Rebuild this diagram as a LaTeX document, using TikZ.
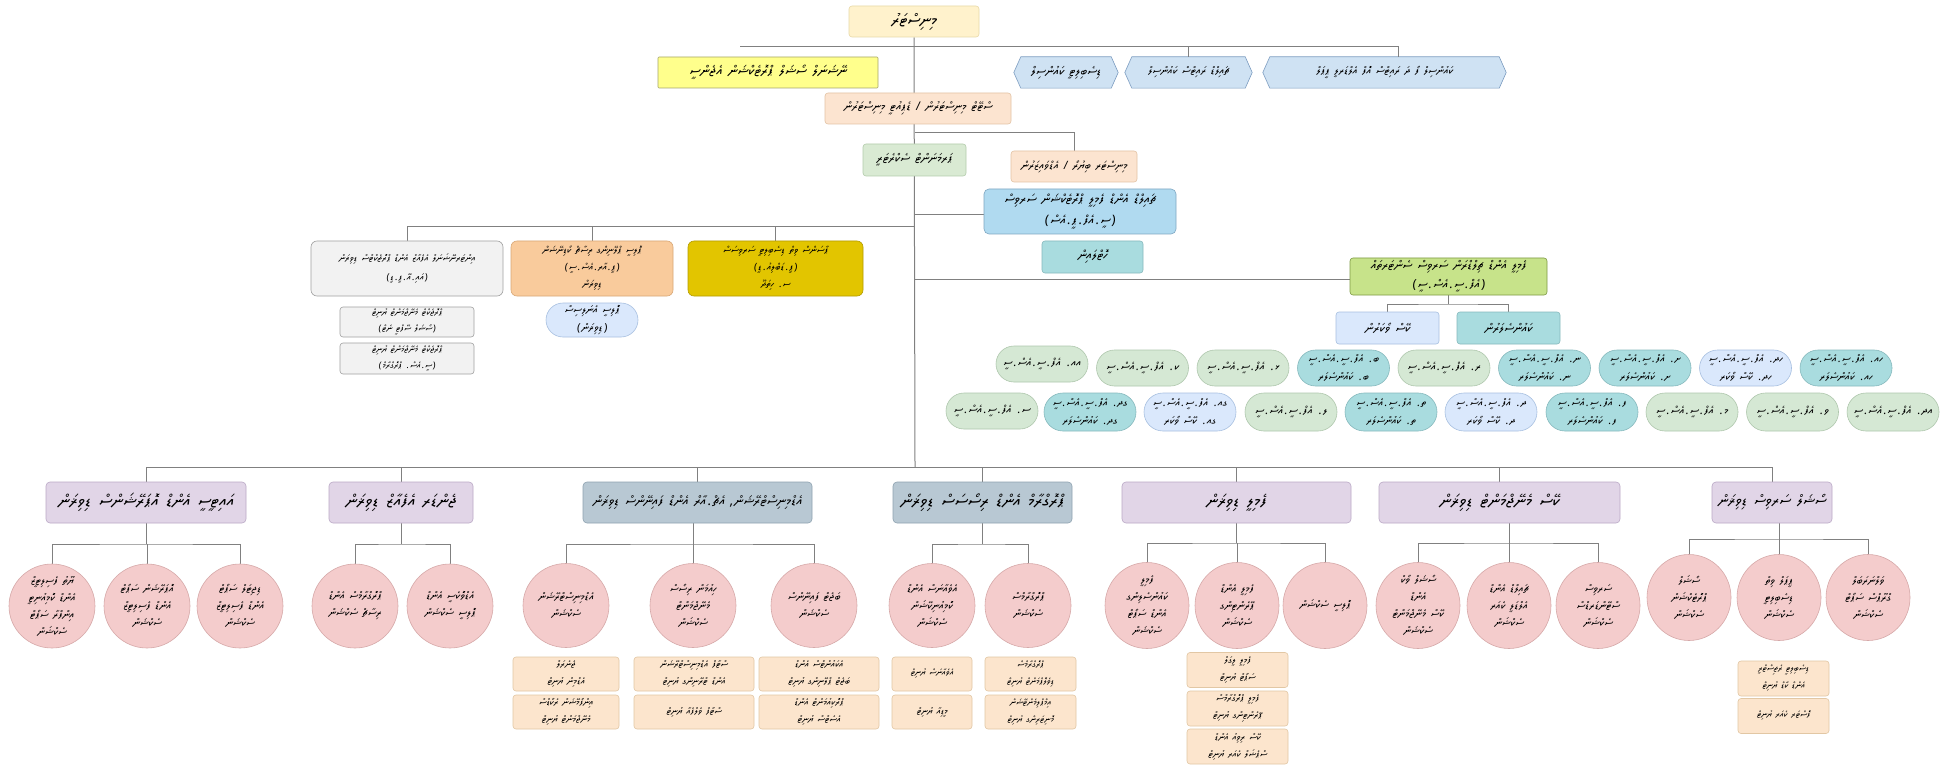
\documentclass[tikz,border=0pt]{standalone}
\usepackage{fontspec}
\usetikzlibrary{shapes.geometric,shapes.misc,backgrounds,calc}
\TeXXeTstate=1
\newfontfamily\dvfont{Noto Sans Thaana}[Script=Thaana,FakeSlant=0.1,WordSpace=1.6]
\newfontfamily\latf{Noto Sans}[FakeSlant=0.1]
\newcommand\thn[1]{\beginR#1\endR}
\newcommand\fsz[2]{\dvfont\fontsize{#1}{#2}\selectfont}
\newcommand\dt{\kern0.1em{\latf.}\kern0.1em}
\newcommand\po{{\latf)}\kern0.1em}
\newcommand\pc{\kern0.1em{\latf(}}
\newcommand\slsh{{\latf/}}
\newcommand\fcsc{އެފް\dt ސީ\dt އެސް\dt ސީ}
\definecolor{lnc}{HTML}{808080}
\definecolor{minF}{HTML}{FFF2CC}\definecolor{minD}{HTML}{E8D9A8}
\definecolor{yelF}{HTML}{FFFF8C}\definecolor{yelD}{HTML}{A6A66B}
\definecolor{hexF}{HTML}{CFE2F3}\definecolor{hexD}{HTML}{7C9CC0}
\definecolor{pchF}{HTML}{FCE4D0}\definecolor{pchD}{HTML}{E3C3A5}
\definecolor{psF}{HTML}{D9EAD3}\definecolor{psD}{HTML}{B4CCAC}
\definecolor{bluF}{HTML}{B0DAF0}\definecolor{bluD}{HTML}{7FA7C2}
\definecolor{tealF}{HTML}{A9DCDF}\definecolor{tealD}{HTML}{86B9BD}
\definecolor{limF}{HTML}{C7E38A}\definecolor{limD}{HTML}{7E9A45}
\definecolor{gryF}{HTML}{F2F2F2}\definecolor{gryD}{HTML}{A0A0A0}
\definecolor{orgF}{HTML}{F9CB9C}\definecolor{orgD}{HTML}{D9A877}
\definecolor{gldF}{HTML}{E2C500}\definecolor{gldD}{HTML}{B49C00}
\definecolor{lbF}{HTML}{DAE8FC}\definecolor{lbD}{HTML}{A8C0E0}
\definecolor{grnF}{HTML}{D5E8D4}\definecolor{grnD}{HTML}{AFC7AD}
\definecolor{purF}{HTML}{E1D5E7}\definecolor{purD}{HTML}{BBA9C6}
\definecolor{gbF}{HTML}{B8C8D3}\definecolor{gbD}{HTML}{8EA2B0}
\definecolor{cirF}{HTML}{F4CCCC}\definecolor{cirD}{HTML}{D6A9A9}
\definecolor{recF}{HTML}{FCE5CD}\definecolor{recD}{HTML}{E2C7A4}
\tikzset{
  conn/.style={draw=lnc, line width=1pt},
  box/.style={rectangle, rounded corners=3pt, line width=0.6pt, inner sep=1pt, align=center},
  fC/.style={font=\fsz{10}{17}},
  fD/.style={font=\fsz{9}{16}},
  hext/.style={inner sep=1pt, minimum height=31, align=center, font=\fsz{11}{18}},
  hexs/.style={fill=hexF, draw=hexD, line width=0.6pt},
  pill/.style={rounded rectangle, line width=0.6pt, inner xsep=0pt, inner ysep=0pt, minimum width=92, minimum height=36, align=center, font=\fsz{11}{18}},
  pg/.style={pill, fill=grnF, draw=grnD},
  pt/.style={pill, fill=tealF, draw=tealD},
  pb/.style={pill, fill=lbF, draw=lbD},
  dv/.style={box, rounded corners=4pt, minimum height=41, font=\fsz{17}{24}},
  dvp/.style={dv, fill=purF, draw=purD},
  dvg/.style={dv, fill=gbF, draw=gbD},
  cir/.style={ellipse, fill=cirF, draw=cirD, line width=0.6pt, inner xsep=-18pt, inner ysep=-16pt, minimum width=86, minimum height=84, align=center, font=\fsz{11}{17}},
  rec/.style={box, fill=recF, draw=recD, inner ysep=0pt, minimum height=34, font=\fsz{9.5}{17}}
}
\begin{document}
\begin{tikzpicture}[x=1pt,y=-1pt]
\useasboundingbox (0,0) rectangle (1953,767);
% ---------- top ----------
\node[box, draw=minD, fill=minF, minimum width=130, minimum height=31, font=\fsz{16.5}{22}] (min) at (914,21.5) {\thn{މިނިސްޓަރު}};
\node[box, rounded corners=1pt, draw=yelD, fill=yelF, minimum width=220, minimum height=31, font=\fsz{14}{20}] (yel) at (768,72.5) {\thn{ނޭޝަނަލް ސޯޝަލް ޕްރޮޓެކްޝަން އެޖެންސީ}};
\node[hext, minimum width=90, font=\fsz{12.5}{18}] (hexL) at (1066,72.5) {\thn{ޑިސެބިލިޓީ ކައުންސިލް}};
\node[hext, minimum width=113] (hexM) at (1188.5,72.5) {\thn{ޗައިލްޑް ރައިޓްސް ކައުންސިލް}};
\node[hext, minimum width=229] (hexR) at (1384.5,72.5) {\thn{ކައުންސިލް ފޯ ދަ ރައިޓްސް އޮފް އެލްޑަރލީ ޕީޕަލް}};
\node[box, draw=pchD, fill=pchF, minimum width=186, minimum height=31, font=\fsz{12}{18}] (state) at (918,108.5) {\thn{ސްޓޭޓް މިނިސްޓަރުން \slsh\ ޑެޕިއުޓީ މިނިސްޓަރުން}};
\node[box, draw=psD, fill=psF, minimum width=103, minimum height=32, font=\fsz{12.5}{18}] (ps) at (914.5,160) {\thn{ޕަރމަނަންޓް ސެކްރެޓަރީ}};
\node[box, draw=pchD, fill=pchF, minimum width=126, minimum height=31, font=\fsz{11.5}{16}] (pch2) at (1074,166.5) {\thn{މިނިސްޓަރ ބިޔުރޯ \slsh\ އެޑްވައިޒަރުން}};
\node[box, rounded corners=5pt, draw=bluD, fill=bluF, inner ysep=0pt, minimum width=192, minimum height=45, font=\fsz{13}{21}] (blu) at (1080,211.5) {\thn{ޗައިލްޑް އެންޑް ފެމިލީ ޕްރޮޓެކްޝަން ސަރވިސް}\\\thn{\po ސީ\dt އެފް\dt ޕީ\dt އެސް\pc}};
\node[box, draw=tealD, fill=tealF, minimum width=101, minimum height=32, font=\fsz{13}{18}] (tsm) at (1092.5,257) {\thn{ހޮޓްލައިން}};
\node[box, draw=limD, fill=limF, inner ysep=0pt, minimum width=197, minimum height=37, font=\fsz{12.5}{19}] (lim) at (1448.5,276.5) {\thn{ފެމިލީ އެންޑް ޗިލްޑްރަން ސަރވިސް ސެންޓަރތައް}\\\thn{\po \fcsc\pc}};
\node[box, draw=lbD, fill=lbF, minimum width=103, minimum height=32, font=\fsz{12.5}{18}] (subL) at (1387.5,328) {\thn{ކޭސް ވޯކަރުން}};
\node[box, draw=tealD, fill=tealF, minimum width=103, minimum height=32, font=\fsz{12.5}{18}] (subR) at (1508.5,328) {\thn{ކައުންސެލަރުން}};
% ---------- left middle ----------
\node[box, rounded corners=6pt, draw=gryD, fill=gryF, minimum width=192, minimum height=55, font=\fsz{9.5}{19}] (gry) at (407,268.5) {\thn{އިންޓަރނޭޝަނަލް އެފެއާޒް އެންޑް ޕްރޮޖެކްޓްސް ޑިވިޜަން}\\\thn{\po އައި\dt އޭ\dt ޕީ\dt ޑީ\pc}};
\node[box, rounded corners=6pt, draw=orgD, fill=orgF, inner ysep=0pt, minimum width=162, minimum height=55, fC] (org) at (592,268.5) {\thn{ޕޮލިސީ ޕްލޭނިންގ ރިސާޗް ކޯޑިނޭޝަން}\\\thn{\po ޕީ\dt އާރ\dt އެސް\dt ސީ\pc}\\\thn{ޑިވިޜަން}};
\node[box, rounded corners=6pt, draw=gldD, fill=gldF, inner ysep=0pt, minimum width=175, minimum height=55, font=\fsz{10}{17}] (gld) at (775.5,268.5) {\thn{ޕާސަންސް ވިތް ޑިސެބިލިޓީ ސަރވިސަސް}\\\thn{\po ޕީ\dt ޑަބްލިއު\dt ޑީ\pc}\\\thn{ސ\dt\ ހިތަދޫ}};
\node[box, draw=gryD, fill=gryF, inner ysep=0pt, minimum width=134, minimum height=30, fD] (gs1) at (407,322) {\thn{ޕްރޮޖެކްޓް މެނޭޖްމަންޓް ޔުނިޓް}\\\thn{\po ސޯޝަލް ސޭފްޓީ ނެޓް\pc}};
\node[box, draw=gryD, fill=gryF, inner ysep=0pt, minimum width=134, minimum height=31, fD] (gs2) at (407,358.5) {\thn{ޕްރޮޖެކްޓް މެނޭޖްމަންޓް ޔުނިޓް}\\\thn{\po ސީ\dt އެސް\dt\ ޕްރޮގްރާމް\pc}};
\node[pb, minimum height=34, font=\fsz{11}{18}] (lbp) at (592,320) {\thn{ޕޮލިސީ އެނަލިސިސް}\\\thn{\po ޑިވިޜަން\pc}};
% ---------- pills top row ----------
\node[pg, font=\fsz{11.5}{18}] (t0) at (1042,364) {\thn{އއ\dt\ \fcsc}};
\node[pg, font=\fsz{11.5}{18}] (t1) at (1142.5,368) {\thn{ކ\dt\ \fcsc}};
\node[pg, font=\fsz{11.5}{18}] (t2) at (1243,368) {\thn{ޅ\dt\ \fcsc}};
\node[pt] (t3) at (1343.5,368) {\thn{ބ\dt\ \fcsc}\\\thn{ބ\dt\ ކައުންސެލަރ}};
\node[pg, font=\fsz{11.5}{18}] (t4) at (1444,368) {\thn{ރ\dt\ \fcsc}};
\node[pt] (t5) at (1544.5,368) {\thn{ނ\dt\ \fcsc}\\\thn{ނ\dt\ ކައުންސެލަރ}};
\node[pt] (t6) at (1645,368) {\thn{ށ\dt\ \fcsc}\\\thn{ށ\dt\ ކައުންސެލަރ}};
\node[pb] (t7) at (1745.5,368) {\thn{ހދ\dt\ \fcsc}\\\thn{ހދ\dt\ ކޭސް ވޯކަރ}};
\node[pt] (t8) at (1846,368) {\thn{ހއ\dt\ \fcsc}\\\thn{ހއ\dt\ ކައުންސެލަރ}};
% ---------- pills bottom row ----------
\node[pg, font=\fsz{11.5}{18}] (b0) at (992,411) {\thn{ސ\dt\ \fcsc}};
\node[pt, minimum height=38] (b1) at (1090,412) {\thn{ގދ\dt\ \fcsc}\\\thn{ގދ\dt\ ކައުންސެލަރ}};
\node[pb, minimum height=38] (b2) at (1190,412) {\thn{ގއ\dt\ \fcsc}\\\thn{ގއ\dt\ ކޭސް ވޯކަރ}};
\node[pg, minimum height=38, font=\fsz{11.5}{18}] (b3) at (1291,412) {\thn{ލ\dt\ \fcsc}};
\node[pt, minimum height=38] (b4) at (1391,412) {\thn{ތ\dt\ \fcsc}\\\thn{ތ\dt\ ކައުންސެލަރ}};
\node[pb, minimum height=38] (b5) at (1491,412) {\thn{ދ\dt\ \fcsc}\\\thn{ދ\dt\ ކޭސް ވޯކަރ}};
\node[pt, minimum height=38] (b6) at (1592,412) {\thn{ފ\dt\ \fcsc}\\\thn{ފ\dt\ ކައުންސެލަރ}};
\node[pg, minimum height=38, font=\fsz{11.5}{18}] (b7) at (1692,412) {\thn{މ\dt\ \fcsc}};
\node[pg, minimum height=38, font=\fsz{11.5}{18}] (b8) at (1792.5,412) {\thn{ވ\dt\ \fcsc}};
\node[pg, minimum height=38, font=\fsz{11.5}{18}] (b9) at (1893,412) {\thn{އދ\dt\ \fcsc}};
% ---------- divisions ----------
\node[dvp, minimum width=200] (d1) at (146,502.5) {\thn{އައިޓީސީ އެންޑް އޮޕަރޭޝަންސް ޑިވިޜަން}};
\node[dvp, minimum width=144] (d2) at (401,502.5) {\thn{ޖެންޑަރ އެފެއާޒް ޑިވިޜަން}};
\node[dvg, minimum width=229, font=\fsz{13.5}{19}] (d3) at (697.5,502.5) {\thn{އެޑްމިނިސްޓްރޭޝަން، އެޗް\dt އާރް އެންޑް ފައިނޭންސް ޑިވިޜަން}};
\node[dvg, minimum width=179] (d4) at (982.5,502.5) {\thn{ޕްރޮގްރާމް އެންޑް ރިސޯސަސް ޑިވިޜަން}};
\node[dvp, minimum width=229] (d5) at (1236.5,502.5) {\thn{ފެމިލީ ޑިވިޜަން}};
\node[dvp, minimum width=241] (d6) at (1499.5,502.5) {\thn{ކޭސް މެނޭޖްމަންޓް ޑިވިޜަން}};
\node[dvp, minimum width=120, font=\fsz{15}{22}] (d7) at (1772,502.5) {\thn{ސޯޝަލް ސަރވިސް ޑިވިޜަން}};
% ---------- circles ----------
\node[cir] (c11) at (52,606) {\thn{ޔޫތު ފެސިލިޓީޒް}\\\thn{އެންޑް ކޮމިއުނިޓީ}\\\thn{އިންފްރާ ސަޕޯޓް}\\\thn{ސެކްޝަން}};
\node[cir] (c12) at (147,606) {\thn{އޮޕަރޭޝަން ސަޕޯޓް}\\\thn{އެންޑް ފެސިލިޓީޒް}\\\thn{ސެކްޝަން}};
\node[cir] (c13) at (240,606) {\thn{ޑިޖިޓަލް ސަޕޯޓް}\\\thn{އެންޑް ފެސިލިޓީޒް}\\\thn{ސެކްޝަން}};
\node[cir] (c21) at (355,606) {\thn{ޕްރޮގްރާމްސް އެންޑް}\\\thn{ރިސާޗް ސެކްޝަން}};
\node[cir] (c22) at (450,606) {\thn{އެޑްވޮކެސީ އެންޑް}\\\thn{ޕޮލިސީ ސެކްޝަން}};
\node[cir] (c31) at (566,605.5) {\thn{އެޑްމިނިސްޓްރޭޝަން}\\\thn{ސެކްޝަން}};
\node[cir] (c32) at (693,605.5) {\thn{ހިއުމަން ރިސޯސް}\\\thn{މެނޭޖްމަންޓް}\\\thn{ސެކްޝަން}};
\node[cir] (c33) at (814,605.5) {\thn{ބަޖެޓް ފައިނޭންސް}\\\thn{ސެކްޝަން}};
\node[cir] (c41) at (932,605.5) {\thn{އެވެއާނަސް އެންޑް}\\\thn{ކޮމިއުނިކޭޝަން}\\\thn{ސެކްޝަން}};
\node[cir] (c42) at (1028,605.5) {\thn{ޕްރޮގްރާމްސް}\\\thn{ސެކްޝަން}};
\node[cir, minimum width=84, minimum height=86] (c51) at (1147,605.5) {\thn{ފެމިލީ}\\\thn{ކައުންސެލިންގ}\\\thn{އެންޑް ސަޕޯޓް}\\\thn{ސެކްޝަން}};
\node[cir, minimum width=84, minimum height=86] (c52) at (1237,605.5) {\thn{ފެމިލީ އެންޑް}\\\thn{ޕޭރެންޓިންގ}\\\thn{ސެކްޝަން}};
\node[cir, minimum width=84, minimum height=86] (c53) at (1325,605.5) {\thn{ޕޮލިސީ ސެކްޝަން}};
\node[cir, minimum width=84, minimum height=86] (c61) at (1418,605.5) {\thn{ސޯޝަލް ވޯކް}\\\thn{އެންޑް}\\\thn{ކޭސް މެނޭޖްމަންޓް}\\\thn{ސެކްޝަން}};
\node[cir, minimum width=84, minimum height=86] (c62) at (1509,605.5) {\thn{ޗައިލްޑް އެންޑް}\\\thn{އެލްޑަލީ ކެއަރ}\\\thn{ސެކްޝަން}};
\node[cir, minimum width=84, minimum height=86] (c63) at (1598,605.5) {\thn{ސަރވިސް}\\\thn{ސްޓޭންޑަރޑްސް}\\\thn{ސެކްޝަން}};
\node[cir, minimum width=84, minimum height=86] (c71) at (1689,597.5) {\thn{ސޯޝަލް}\\\thn{ޕްރޮޓެކްޝަން}\\\thn{ސެކްޝަން}};
\node[cir, minimum width=84, minimum height=86] (c72) at (1779,597.5) {\thn{ޕީޕަލް ވިތް}\\\thn{ޑިސެބިލިޓީ}\\\thn{ސެކްޝަން}};
\node[cir, minimum width=84, minimum height=86] (c73) at (1868,597.5) {\thn{ވަލްނަރަބަލް}\\\thn{ގްރޫޕްސް ސަޕޯޓް}\\\thn{ސެކްޝަން}};
% ---------- unit rectangles ----------
\node[rec, minimum width=106] (r311) at (566,674) {\thn{ޖެނެރަލް}\\\thn{އެޑްމިން ޔުނިޓް}};
\node[rec, minimum width=106] (r312) at (566,712) {\thn{އިންފޯމޭޝަން ރެކޯޑްސް}\\\thn{މެނޭޖްމަންޓް ޔުނިޓް}};
\node[rec, minimum width=120] (r321) at (694,674) {\thn{ސްޓާފް އެޑްމިނިސްޓްރޭޝަން}\\\thn{އެންޑް ޓްރޭނިންގ ޔުނިޓް}};
\node[rec, minimum width=120] (r322) at (694,712) {\thn{ސްޓާފް ވެލްފެއާ ޔުނިޓް}};
\node[rec, minimum width=120] (r331) at (819,674) {\thn{އެކައުންޓްސް އެންޑް}\\\thn{ބަޖެޓް ޕްލޭނިންގ ޔުނިޓް}};
\node[rec, minimum width=120] (r332) at (819,712) {\thn{ޕްރޮކިއުމަންޓް އެންޑް}\\\thn{އެސެޓްސް ޔުނިޓް}};
\node[rec, minimum width=80, font=\fsz{9}{17}] (r411) at (932,674) {\thn{އެވެއާނަސް ޔުނިޓް}};
\node[rec, minimum width=80] (r412) at (932,712) {\thn{މީޑިއާ ޔުނިޓް}};
\node[rec, minimum width=91, font=\fsz{9}{17}] (r421) at (1030.5,674) {\thn{ޕްރޮގްރާމްސް}\\\thn{ޑިވެލޮޕްމަންޓް ޔުނިޓް}};
\node[rec, minimum width=91, font=\fsz{9}{17}] (r422) at (1030.5,712) {\thn{އިމްޕްލިމެންޓޭޝަން}\\\thn{މޮނިޓަރިންގ ޔުނިޓް}};
\node[rec, minimum width=101, minimum height=35] (r521) at (1237.5,670) {\thn{ފެމިލީ ލީގަލް}\\\thn{ސަޕޯޓް ޔުނިޓް}};
\node[rec, minimum width=101, minimum height=35] (r522) at (1237.5,708.5) {\thn{ފެމިލީ ޕްރޮގްރާމްސް}\\\thn{ޕޭރެންޓިންގ ޔުނިޓް}};
\node[rec, minimum width=101, minimum height=35] (r523) at (1237.5,746.5) {\thn{ކޭސް ރިވިއު އެންޑް}\\\thn{ސްޕެޝަލް ކެއަރ ޔުނިޓް}};
\node[rec, minimum width=91, minimum height=35, font=\fsz{9}{17}] (r721) at (1783.5,678.5) {\thn{ޑިސެބިލިޓީ ރެޖިސްޓްރީ}\\\thn{އެންޑް ކާޑް ޔުނިޓް}};
\node[rec, minimum width=91, minimum height=35, font=\fsz{9}{17}] (r722) at (1783.5,716) {\thn{ފޮސްޓަރ ކެއަރ ޔުނިޓް}};
% ---------- background: hexagons and connectors ----------
\begin{scope}[on background layer]
\fill[white] (0,0) rectangle (1953,767);
\foreach \h in {hexL,hexM,hexR}{
  \draw[hexs] (\h.north west) -- (\h.north east) -- ($(\h.east)+(7,0)$) -- (\h.south east) -- (\h.south west) -- ($(\h.west)+(-7,0)$) -- cycle;
}
\coordinate (busB) at (915,467);
\draw[conn] (min.south) -- (busB);
\coordinate (tbL) at (740,47);
\coordinate (tbR) at (1398,47);
\draw[conn] (tbL) -- (tbR) -- (tbR |- hexR.north);
\draw[conn] (hexM.north) -- (hexM.north |- tbL);
\coordinate (s133) at (915,133);
\draw[conn] (s133) -| (pch2.north);
\coordinate (s215) at (915,215);
\draw[conn] (s215) -- (s215 -| blu.west);
\coordinate (s279) at (915,279);
\draw[conn] (s279) -- (s279 -| lim.west);
\coordinate (s227) at (915,227);
\draw[conn] (s227) -| (gry.north);
\draw[conn] (org.north) -- (org.north |- s227);
\draw[conn] (gld.north) -- (gld.north |- s227);
\coordinate (lj) at (1448.5,304);
\draw[conn] (lim.south) -- (lj);
\draw[conn] (subL.north) |- (lj) -| (subR.north);
\draw[conn] (d1.north |- busB) -- (d7.north |- busB);
\foreach \d in {d1,d2,d3,d4,d5,d6,d7} \draw[conn] (\d.north) -- (\d.north |- busB);
\coordinate (j1) at (146,544);
\draw[conn] (d1.south) -- (j1);
\draw[conn] (c11.north) |- (j1) -| (c13.north);
\draw[conn] (c12.north) -- (c12.north |- j1);
\coordinate (j2) at (401,544);
\draw[conn] (d2.south) -- (j2);
\draw[conn] (c21.north) |- (j2) -| (c22.north);
\coordinate (j3) at (693,544);
\draw[conn] (d3.south -| j3) -- (j3);
\draw[conn] (c31.north) |- (j3) -| (c33.north);
\draw[conn] (c32.north) -- (c32.north |- j3);
\coordinate (j4) at (982.5,544);
\draw[conn] (d4.south) -- (j4);
\draw[conn] (c41.north) |- (j4) -| (c42.north);
\coordinate (j5) at (1236.5,543);
\draw[conn] (d5.south) -- (j5);
\draw[conn] (c51.north) |- (j5) -| (c53.north);
\draw[conn] (c52.north) -- (c52.north |- j5);
\coordinate (j6) at (1509,543);
\draw[conn] (d6.south -| j6) -- (j6);
\draw[conn] (c61.north) |- (j6) -| (c63.north);
\draw[conn] (c62.north) -- (c62.north |- j6);
\coordinate (j7) at (1779,539);
\draw[conn] (d7.south -| j7) -- (j7);
\draw[conn] (c71.north) |- (j7) -| (c73.north);
\draw[conn] (c72.north) -- (c72.north |- j7);
\end{scope}
\end{tikzpicture}
\end{document}
